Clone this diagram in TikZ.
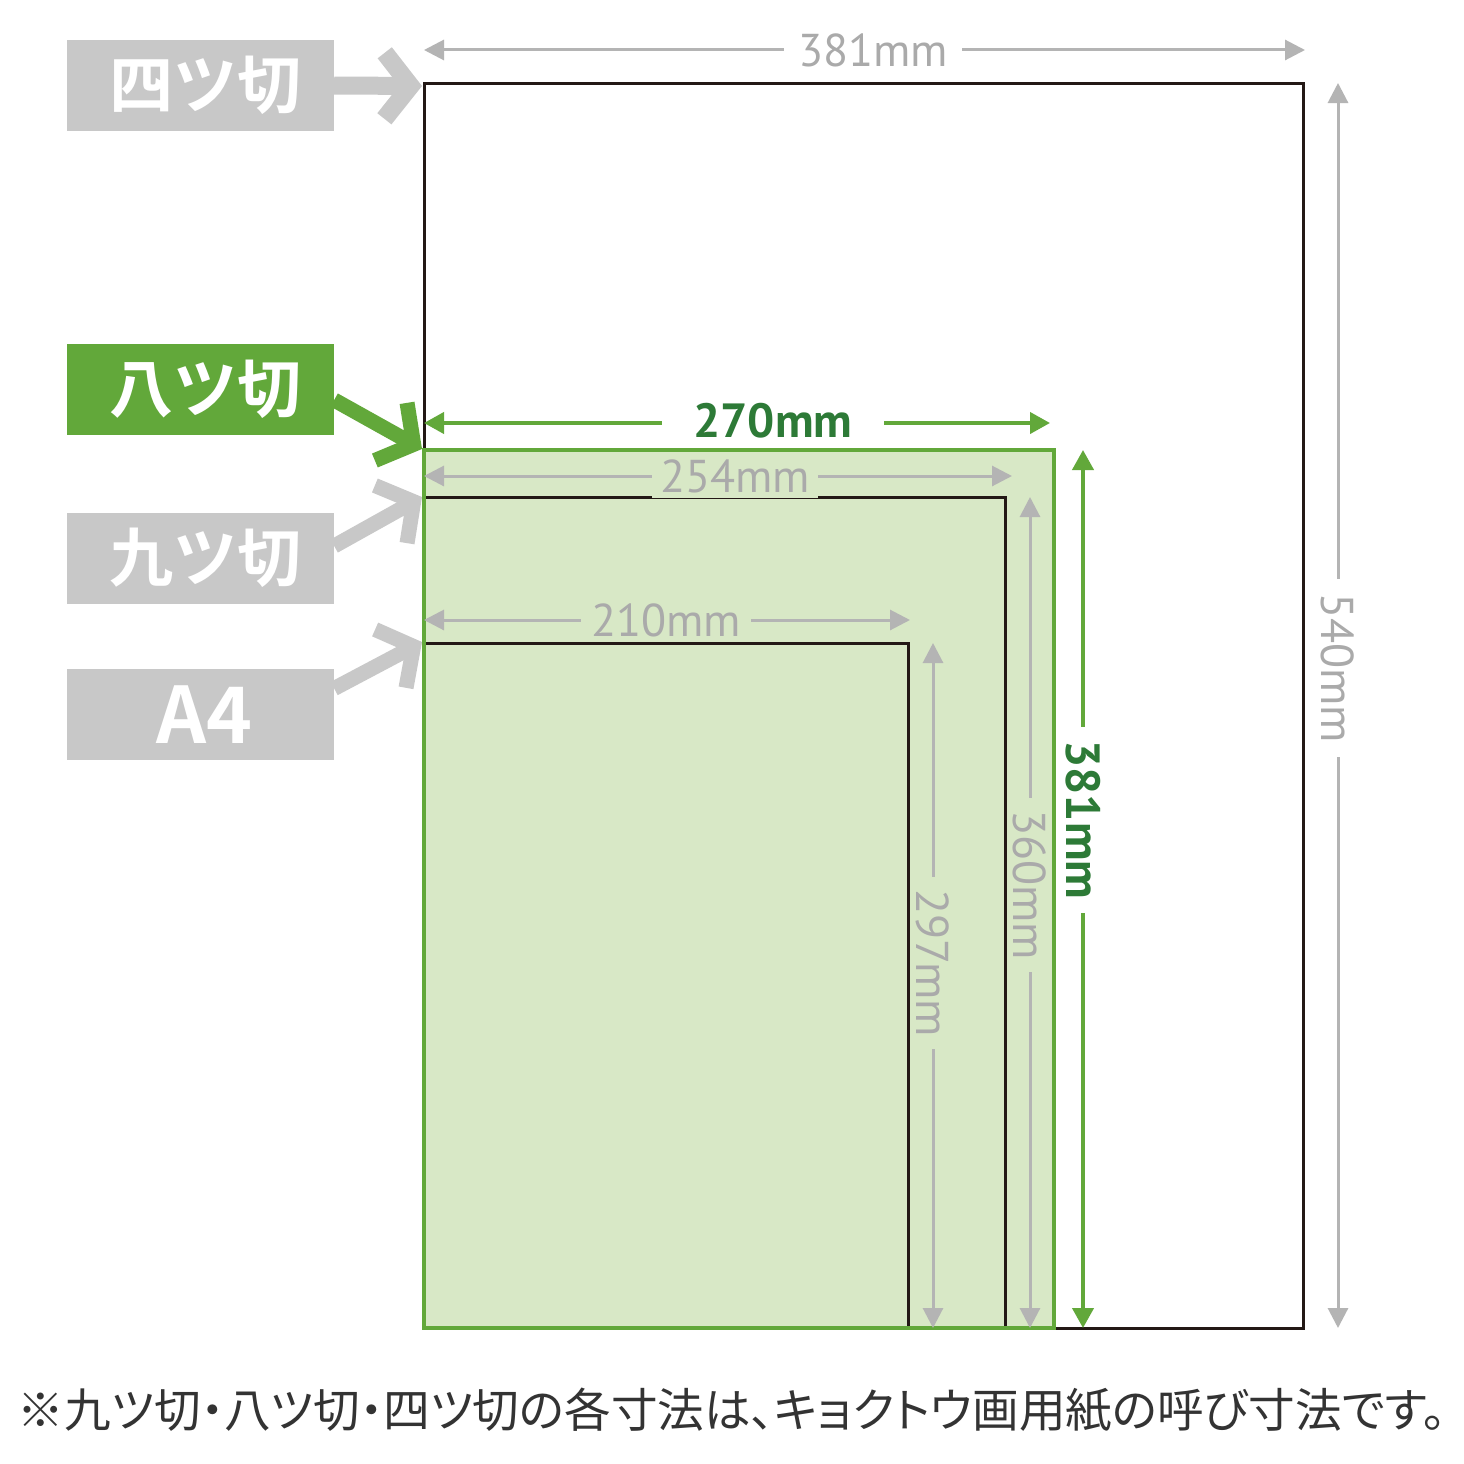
\documentclass[tikz,border=0pt]{standalone}
\usepackage{fontspec}
\setmainfont{PT Sans}
\newfontfamily\jp{Noto Sans CJK JP}[RawFeature=+palt]
\newfontfamily\jpb{Noto Sans CJK JP Bold}
\usetikzlibrary{arrows.meta,calc}
\definecolor{lgray}{HTML}{C8C8C8}
\definecolor{dimgray}{HTML}{B4B4B4}
\definecolor{dimtext}{HTML}{AAAAAA}
\definecolor{grn}{HTML}{62A83A}
\definecolor{lgrn}{HTML}{D8E8C6}
\definecolor{dgrn}{HTML}{2D7A37}
\definecolor{blk}{HTML}{231815}
\definecolor{captxt}{HTML}{333333}
\tikzset{
  labelbox/.style={minimum width=267pt,minimum height=91pt,inner sep=0pt,text=white,font=\jpb\fontsize{64}{70}\selectfont},
  larrow/.style={line width=15pt,-{Straight Barb[length=26pt,width=66pt]}},
  dimg/.style={draw=dimgray,line width=3pt,{Triangle[length=20pt,width=20pt]}-{Triangle[length=20pt,width=20pt]}},
  dimgr/.style={draw=grn,line width=4pt,{Triangle[length=20pt,width=21pt]}-{Triangle[length=20pt,width=21pt]}},
  dimtxt/.style={text=dimtext,font=\fontsize{46}{50}\selectfont,inner sep=5pt},
  dimtxtg/.style={text=dgrn,font=\bfseries\fontsize{48}{52}\selectfont,inner sep=5pt},
}
\begin{document}
\begin{tikzpicture}[x=1pt,y=-1pt]
\useasboundingbox (0,0) rectangle (1464,1464);
\fill[white] (0,0) rectangle (1464,1464);
% sheet corners
\coordinate (B1) at (424,83);  \coordinate (B2) at (1303,1328);
\coordinate (G1) at (424,450); \coordinate (G2) at (1054,1328);
\coordinate (K1) at (424,497); \coordinate (K2) at (1005,1328);
\coordinate (A1) at (424,643); \coordinate (A2) at (908,1328);
% sheets
\draw[blk,line width=3pt] (B1) rectangle (B2);
\fill[lgrn] (G1) rectangle (G2);
\draw[blk,line width=3pt] (K1) -- (K1 -| K2) -- (K2);
\draw[blk,line width=3pt] (A1) -- (A1 -| A2) -- (A2);
\draw[grn,line width=4.5pt] (G1) rectangle (G2);
% dimension lines
\coordinate (d1a) at (424,50);  \coordinate (d1b) at (1305,50);
\draw[dimg] (d1a) -- (d1b);
\node[dimtxt,fill=white,inner xsep=14pt] (t1) at (873,50) {381mm};
\coordinate (d2a) at (1338,83); \coordinate (d2b) at (1338,1328);
\draw[dimg] (d2a) -- (d2b);
\node[dimtxt,fill=white,rotate=-90,inner xsep=14pt] (t2) at (1338,668) {540mm};
\coordinate (d3a) at (424,423); \coordinate (d3b) at (1050,423);
\draw[dimgr] (d3a) -- (d3b);
\node[dimtxtg,fill=white,inner xsep=32pt] (t3) at (773,421) {270mm};
\coordinate (d4a) at (1083,450); \coordinate (d4b) at (1083,1328);
\draw[dimgr] (d4a) -- (d4b);
\node[dimtxtg,fill=white,rotate=-90,inner xsep=14pt] (t4) at (1083,820) {381mm};
\coordinate (d5a) at (424,476); \coordinate (d5b) at (1012,476);
\draw[dimg] (d5a) -- (d5b);
\node[dimtxt,fill=lgrn,inner xsep=8pt] (t5) at (735,476) {254mm};
\coordinate (d6a) at (1030,497); \coordinate (d6b) at (1030,1328);
\draw[dimg] (d6a) -- (d6b);
\node[dimtxt,fill=lgrn,rotate=-90,inner xsep=12pt] (t6) at (1030,885) {360mm};
\coordinate (d7a) at (424,620); \coordinate (d7b) at (910,620);
\draw[dimg] (d7a) -- (d7b);
\node[dimtxt,fill=lgrn,inner xsep=10pt] (t7) at (666,620) {210mm};
\coordinate (d8a) at (933,643); \coordinate (d8b) at (933,1328);
\draw[dimg] (d8a) -- (d8b);
\node[dimtxt,fill=lgrn,rotate=-90,inner xsep=12pt] (t8) at (933,963) {297mm};
% labels
\node[labelbox,fill=lgray] (L1) at (200.5,85.5) {\hspace*{10pt}四ツ切};
\node[labelbox,fill=grn] (L2) at (200.5,389.5) {\hspace*{10pt}八ツ切};
\node[labelbox,fill=lgray] (L3) at (200.5,558) {\hspace*{10pt}九ツ切};
\node[labelbox,fill=lgray,font=\jpb\fontsize{78}{80}\selectfont] (L4) at (200.5,714.5) {\hspace*{8pt}A4};
\coordinate (T1) at (422,86);
\coordinate (T2) at (422,449);
\coordinate (T3) at (422,497);
\coordinate (T4) at (422,642);
\draw[larrow,lgray,line width=18pt] (L1.east) -- (T1);
\draw[larrow,grn] ($(L2.east)+(0,10.5)$) -- (T2);
\draw[larrow,lgray] ($(L3.east)+(0,-12)$) -- (T3);
\draw[larrow,lgray] ($(L4.east)+(0,-26)$) -- (T4);
% caption
\node[text=captxt,inner sep=0pt] (cap) at (732,1410) {\resizebox{1428pt}{!}{\jp\fontsize{48}{56}\selectfont ※九ツ切・八ツ切・四ツ切の各寸法は、キョクトウ画用紙の呼び寸法です。}};
\end{tikzpicture}
\end{document}
